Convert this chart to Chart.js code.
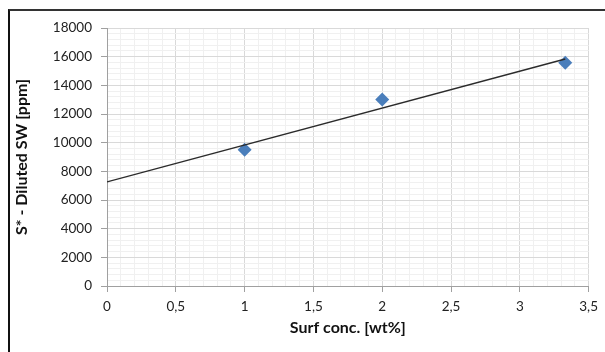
<!DOCTYPE html>
<html>
<head>
<meta charset="utf-8">
<script src="https://cdn.jsdelivr.net/npm/chart.js@4/dist/chart.umd.min.js"></script>
<style>
  html, body { margin: 0; padding: 0; background: #fff; }
  #frame {
    position: absolute; left: 8px; top: 9px; width: 620px; height: 360px;
    border-left: 2px solid #111; border-top: 2px solid #333;
  }
  #chart { position: absolute; left: 0; top: 0; }
</style>
</head>
<body>
<div id="frame"></div>
<canvas id="chart" width="605" height="352"></canvas>
<script>
// measured points
const surfConc = [1, 2, 3.33];
const dilutedSW = [9500, 13020, 15580];

// linear trendline, read at both ends
const trendX = [0, 3.33];
const trendY = [7260, 15840];

const xTicks = { min: 0, max: 3.5, minor: 0.1, major: 0.5 };
const yTicks = { min: 0, max: 18000, minor: 400, major: 2000 };

const FONT = "Lato, 'Open Sans', sans-serif";

function isMajor(v, step, minor) {
  return Math.round(v / minor) % Math.round(step / minor) === 0;
}

function displayChart() {
  const ctx = document.getElementById('chart');

  const points = surfConc.map((x, i) => ({ x, y: dilutedSW[i] }));
  const trend = trendX.map((x, i) => ({ x, y: trendY[i] }));

  new Chart(ctx, {
    type: 'scatter',
    data: {
      datasets: [
        {
          label: 'Trend',
          data: trend,
          showLine: true,
          borderColor: '#2b2b2b',
          borderWidth: 1.4,
          pointRadius: 0,
          order: 0
        },
        {
          label: 'S*',
          data: points,
          pointStyle: 'rectRot',
          pointRadius: 7,
          backgroundColor: '#4a7ebb',
          borderColor: '#4a7ebb',
          borderWidth: 0,
          order: 1
        }
      ]
    },
    options: {
      responsive: false,
      animation: false,
      layout: { padding: { left: 0, top: 28, right: 16, bottom: 0 } },
      plugins: { legend: { display: false }, tooltip: { enabled: false } },
      scales: {
        x: {
          type: 'linear',
          min: xTicks.min,
          max: xTicks.max,
          afterFit: (s) => { s.height = 66; },
          border: { color: '#a0a0a0', width: 1 },
          grid: {
            tickLength: 6,
            color: (c) => isMajor(c.tick.value, xTicks.major, xTicks.minor) ? '#d9d9d9' : '#f0f0f0',
            tickColor: (c) => isMajor(c.tick.value, xTicks.major, xTicks.minor) ? '#a0a0a0' : 'rgba(0,0,0,0)'
          },
          ticks: {
            stepSize: xTicks.minor,
            autoSkip: false,
            maxRotation: 0,
            padding: 7,
            color: '#222',
            font: { family: FONT, size: 13.5 },
            callback: (v) => isMajor(v, xTicks.major, xTicks.minor) ? String(v).replace('.', ',') : ''
          },
          title: {
            display: true,
            text: 'Surf conc. [wt%]',
            color: '#111',
            font: { family: FONT, size: 16, weight: 'bold' },
            padding: { top: 0, bottom: 15 }
          }
        },
        y: {
          type: 'linear',
          min: yTicks.min,
          max: yTicks.max,
          afterFit: (s) => { s.width = 107; },
          border: { color: '#a0a0a0', width: 1 },
          grid: {
            tickLength: 6,
            color: (c) => isMajor(c.tick.value, yTicks.major, yTicks.minor) ? '#d9d9d9' : '#f0f0f0',
            tickColor: (c) => isMajor(c.tick.value, yTicks.major, yTicks.minor) ? '#a0a0a0' : 'rgba(0,0,0,0)'
          },
          ticks: {
            stepSize: yTicks.minor,
            autoSkip: false,
            padding: 9,
            color: '#222',
            font: { family: FONT, size: 13.5 },
            callback: (v) => isMajor(v, yTicks.major, yTicks.minor) ? String(v) : ''
          },
          title: {
            display: true,
            text: 'S* - Diluted SW [ppm]',
            color: '#111',
            font: { family: FONT, size: 16, weight: 'bold' },
            padding: { top: 12, bottom: 0 }
          }
        }
      }
    }
  });
}

displayChart();
</script>
</body>
</html>
